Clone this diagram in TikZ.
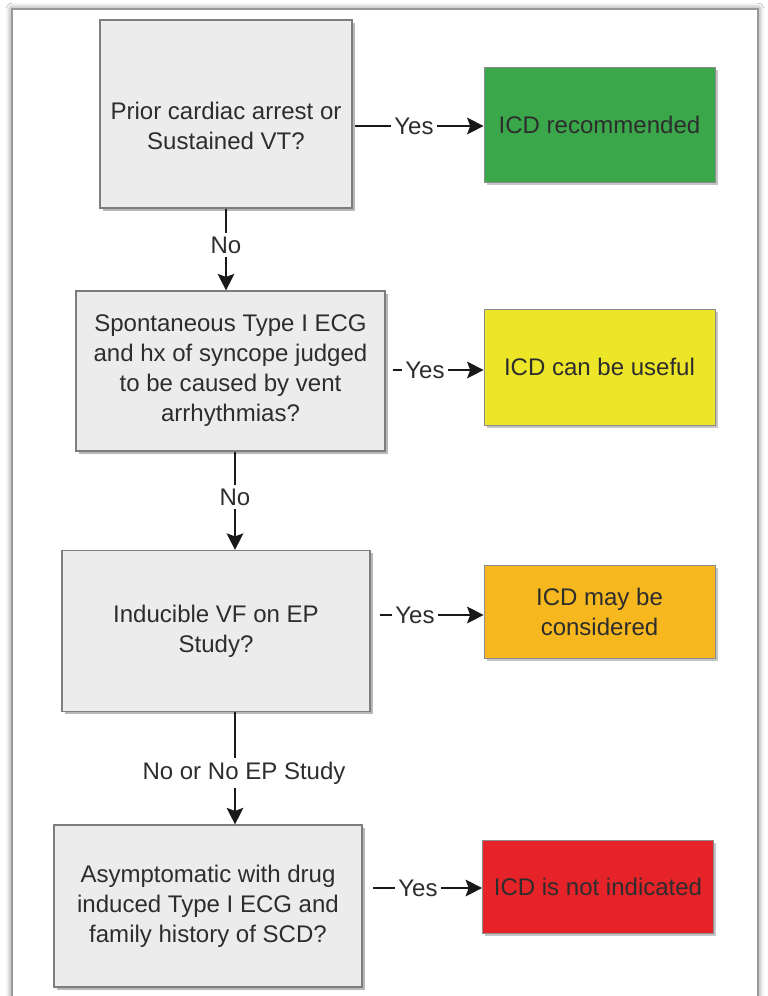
\documentclass[tikz,border=0pt]{standalone}
\usepackage{fontspec}
\setmainfont{Liberation Sans}
\definecolor{icdGreen}{RGB}{58,168,74}
\definecolor{icdYellow}{RGB}{236,229,40}
\definecolor{icdOrange}{RGB}{246,184,30}
\definecolor{icdRed}{RGB}{230,35,40}
\definecolor{qFill}{RGB}{236,236,236}
\definecolor{qEdge}{RGB}{125,125,125}
\definecolor{txtGray}{RGB}{45,45,45}
\usetikzlibrary{arrows.meta,positioning,shadows,shadows.blur}

\begin{document}
\begin{tikzpicture}[x=0.03cm, y=-0.03cm,
  font=\fontsize{20.5pt}{25.6pt}\selectfont,
  qbox/.style={draw=qEdge, fill=qFill, line width=1pt, align=center, text=txtGray,
               drop shadow={shadow xshift=2.5pt, shadow yshift=-2.5pt, fill=black!55}},
  rbox/.style={draw=black!45, line width=0.6pt, align=center, text=txtGray,
               minimum width=6.93cm,
               drop shadow={shadow xshift=2.5pt, shadow yshift=-2.5pt, fill=black!45}},
  lbl/.style={text=txtGray, inner sep=3pt},
  ln/.style={line width=2.5pt, black!90},
  arr/.style={ln, -{Stealth[length=14pt, width=14pt, inset=2.5pt]}}
]
  % page and framed panel
  \clip (0,0) rectangle (768,996);
  \fill[white] (0,0) rectangle (768,996);
  \path[fill=white, draw=black!40, line width=1pt,
        blur shadow={shadow xshift=0pt, shadow yshift=0pt, shadow blur radius=5pt,
                     shadow opacity=60}]
        (12,9) rectangle (758,1030);

  % questions
  \node[qbox, minimum width=7.56cm, minimum height=5.64cm] (b1) at (226,114)
       {\rule{0pt}{35pt}Prior cardiac arrest or\\Sustained VT?};
  \node[qbox, minimum width=9.27cm, minimum height=4.8cm] (b2) at (230.5,371)
       {Spontaneous Type I ECG\\and hx of syncope judged\\to be caused by vent\\arrhythmias?};
  \node[qbox, minimum width=9.24cm, minimum height=4.83cm] (b3) at (216,631)
       {Inducible VF on EP\\Study?};
  \node[qbox, minimum width=9.24cm, minimum height=4.86cm] (b4) at (208,906)
       {Asymptomatic with drug\\induced Type I ECG and\\family history of SCD?};

  % outcomes
  \node[rbox, fill=icdGreen,  minimum height=3.45cm] (r1) at (599.5,124.5) {ICD recommended};
  \node[rbox, fill=icdYellow, minimum height=3.48cm] (r2) at (599.5,367)   {ICD can be useful};
  \node[rbox, fill=icdOrange, minimum height=2.79cm] (r3) at (599.5,611.5) {ICD may be\\considered};
  \node[rbox, fill=icdRed,    minimum height=2.79cm] (r4) at (598,886.5)   {ICD is not indicated};

  % yes branches
  \node[lbl] (y1) at (414,126) {Yes};
  \node[lbl] (y2) at (425,370) {Yes};
  \node[lbl] (y3) at (415,615) {Yes};
  \node[lbl] (y4) at (418,888) {Yes};
  \draw[ln, shorten <=2pt]  (b1.east |- y1) -- (y1);
  \draw[ln, shorten <=6pt]  (b2.east |- y2) -- (y2);
  \draw[ln, shorten <=8pt]  (b3.east |- y3) -- (y3);
  \draw[ln, shorten <=9pt]  (b4.east |- y4) -- (y4);
  \draw[arr] (y1) -- (r1.west |- y1);
  \draw[arr] (y2) -- (r2.west |- y2);
  \draw[arr] (y3) -- (r3.west |- y3);
  \draw[arr] (y4) -- (r4.west |- y4);

  % no branches
  \node[lbl] (n1) at (226,245) {No};
  \node[lbl] (n2) at (235,497) {No};
  \node[lbl] (n3) at (244,773) {No or No EP Study};
  \coordinate (v3) at (235,773);
  \draw[ln]  (b1.south -| n1) -- (n1);
  \draw[arr] (n1) -- (b2.north -| n1);
  \draw[ln]  (b2.south -| n2) -- (n2);
  \draw[arr] (n2) -- (b3.north -| n2);
  \draw[ln]  (b3.south -| v3) -- (n3.north -| v3);
  \draw[arr] (n3.south -| v3) -- (b4.north -| v3);
\end{tikzpicture}
\end{document}
